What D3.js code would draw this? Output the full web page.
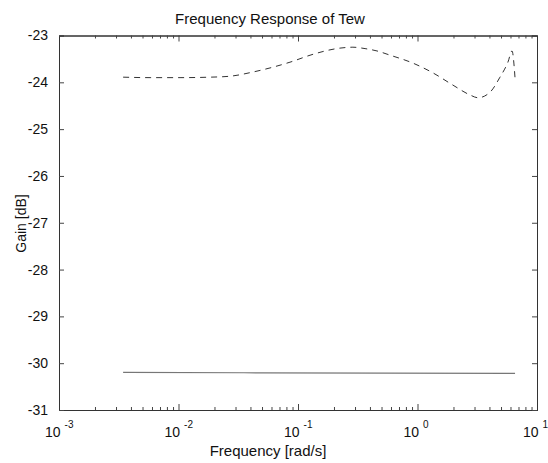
<!DOCTYPE html>
<html>
<head>
<meta charset="utf-8">
<script src="https://cdn.jsdelivr.net/npm/d3@7"></script>
<style>
  body { margin: 0; background: #fff; }
  text { font-family: "Liberation Sans", Arial, Helvetica, sans-serif; fill: #111; }
</style>
</head>
<body>
<div id="chart"></div>
<script>
// data
var dashFreq = [0.00344, 0.00578, 0.0103, 0.0184, 0.0270, 0.0420, 0.0857, 0.134, 0.224, 0.288,
                0.364, 0.458, 0.589, 0.916, 1.35, 1.98, 2.75, 3.21, 4.05, 4.90, 5.71, 6.18, 6.55];
var dashGain = [-23.89, -23.90, -23.90, -23.89, -23.87, -23.78, -23.57, -23.40, -23.27, -23.25,
                -23.28, -23.33, -23.42, -23.59, -23.80, -24.06, -24.27, -24.33, -24.21, -23.89, -23.57, -23.33, -23.91];
var solidFreq = [0.00344, 0.0500, 6.55];
var solidGain = [-30.196, -30.207, -30.217];
var yTicks = [-23, -24, -25, -26, -27, -28, -29, -30, -31];
var xTicks = [1e-3, 1e-2, 1e-1, 1e0, 1e1];
var xTickExp = ['-3', '-2', '-1', '0', '1'];

(function freqChart(){

  var margin = {top: 35.5, right: 11, bottom: 53, left: 59},
      width = 548 - margin.left - margin.right,
      height = 463 - margin.top - margin.bottom,
      x = d3.scaleLog().domain([1e-3, 1e1]).range([0, width]),
      y = d3.scaleLinear().domain([-31, -23]).range([height, 0]);

  var svg = d3.select('#chart')
            .append('svg')
            .attr('width', 548)
            .attr('height', 463)
            .append('g')
            .attr('transform', 'translate(' + margin.left + ',' + margin.top + ')');

  // minor log ticks
  var minors = [];
  for (var e = -3; e < 1; e++) {
    for (var m = 2; m <= 9; m++) minors.push(m * Math.pow(10, e));
  }

  // bottom / top axes, ticks point inward
  svg.append('g')
      .attr('class', 'x axis')
      .attr('transform', 'translate(0,' + height + ')')
      .call(d3.axisBottom(x).tickValues(xTicks).tickSize(-6).tickFormat(''));
  svg.append('g')
      .attr('class', 'x axis minor')
      .attr('transform', 'translate(0,' + height + ')')
      .call(d3.axisBottom(x).tickValues(minors).tickSize(-3).tickFormat(''));
  svg.append('g')
      .attr('class', 'x axis')
      .call(d3.axisTop(x).tickValues(xTicks).tickSize(-6).tickFormat(''));
  svg.append('g')
      .attr('class', 'x axis minor')
      .call(d3.axisTop(x).tickValues(minors).tickSize(-3).tickFormat(''));

  // left / right axes
  svg.append('g')
      .attr('class', 'y axis')
      .call(d3.axisLeft(y).tickValues(yTicks).tickSize(-5).tickPadding(11)
        .tickFormat(function(d){ return String(d); }))
      .selectAll('text')
      .style('font-size', '14px');
  svg.append('g')
      .attr('class', 'y axis')
      .attr('transform', 'translate(' + width + ',0)')
      .call(d3.axisRight(y).tickValues(yTicks).tickSize(-5).tickFormat(''));

  svg.selectAll('.axis path').attr('stroke', '#333');
  svg.selectAll('.axis line').attr('stroke', '#444');

  // x tick labels: 10 with superscript exponent
  var lab = svg.selectAll('.xlab')
      .data(xTicks)
      .enter()
      .append('text')
      .attr('class', 'xlab')
      .attr('x', function(d){ return x(d) - 14; })
      .attr('y', height + 27)
      .style('font-size', '14px');
  lab.append('tspan').text('10');
  lab.append('tspan')
      .attr('dx', 4)
      .attr('dy', -9)
      .style('font-size', '10px')
      .text(function(d, i){ return xTickExp[i]; });

  // lines
  var dashData = dashFreq.map(function(f, i){ return [f, dashGain[i]]; });
  var solidData = solidFreq.map(function(f, i){ return [f, solidGain[i]]; });
  var line = d3.line()
      .x(function(d){ return x(d[0]); })
      .y(function(d){ return y(d[1]); })
      .curve(d3.curveMonotoneX);

  svg.append('path')
      .datum(solidData)
      .attr('fill', 'none')
      .attr('stroke', '#777')
      .attr('stroke-width', 1.1)
      .attr('d', line);

  svg.append('path')
      .datum(dashData)
      .attr('fill', 'none')
      .attr('stroke', '#333')
      .attr('stroke-width', 1)
      .attr('stroke-dasharray', '6,5')
      .attr('d', line);

  // titles (centred slightly left of the axes, as in the scan)
  svg.append('text')
      .attr('x', 211)
      .attr('y', -11.5)
      .attr('text-anchor', 'middle')
      .style('font-size', '15px')
      .text('Frequency Response of Tew');

  svg.append('text')
      .attr('x', 209)
      .attr('y', height + 46)
      .attr('text-anchor', 'middle')
      .style('font-size', '15px')
      .text('Frequency [rad/s]');

  svg.append('text')
      .attr('transform', 'rotate(-90)')
      .attr('x', -188)
      .attr('y', -33)
      .attr('text-anchor', 'middle')
      .style('font-size', '14px')
      .text('Gain [dB]');

})();
</script>
</body>
</html>
